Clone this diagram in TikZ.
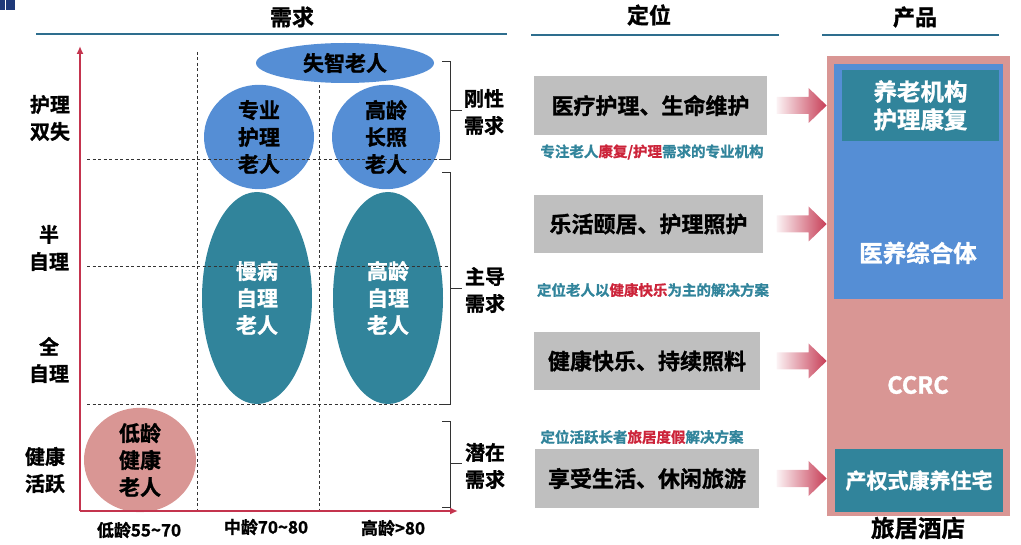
\documentclass[tikz,border=0pt]{standalone}
\usepackage{fontspec}
\setmainfont{Noto Sans CJK SC}[BoldFont={Noto Sans CJK SC Bold}, BoldFeatures={FakeBold=1.2}]
\usetikzlibrary{shapes.geometric,arrows.meta}

\definecolor{hdline}{RGB}{46,110,142}
\definecolor{ovblue}{RGB}{85,142,213}
\definecolor{ovteal}{RGB}{49,132,155}
\definecolor{ovpink}{RGB}{217,150,148}
\definecolor{boxgray}{RGB}{191,191,191}
\definecolor{axred}{RGB}{196,52,78}
\definecolor{capred}{RGB}{204,36,58}
\definecolor{logoblue}{RGB}{31,58,122}

\tikzset{every picture/.style={line width=0.75pt},
  hdtext/.style={font=\fontsize{22}{26}\selectfont\bfseries, inner sep=0pt},
  hdrule/.style={draw=hdline, line width=2.5pt},
  lvltext/.style={font=\fontsize{20}{27}\selectfont\bfseries, align=center, inner sep=0pt},
  agetext/.style={font=\fontsize{17}{20}\selectfont\bfseries, inner sep=0pt},
  gridline/.style={draw=black!80, line width=0.6pt, dash pattern=on 3pt off 2.5pt},
  brace/.style={draw=black!80, line width=0.8pt},
  oval/.style={ellipse, inner sep=0pt, align=center, font=\fontsize{21}{27}\selectfont\bfseries},
  posbox/.style={fill=boxgray, inner sep=0pt, font=\fontsize{22}{26}\selectfont\bfseries},
  postip/.style={inner sep=0pt, font=\fontsize{14.5}{18}\selectfont\bfseries, text=ovteal},
  arrowblk/.style={left color=axred!6, right color=axred!95},
  prodtext/.style={text=white, align=center, inner sep=0pt, font=\fontsize{23.5}{28}\selectfont\bfseries}
}

\begin{document}
\begin{tikzpicture}[x=1pt,y=-1pt]
\useasboundingbox (0,0) rectangle (1021,545);

% logo corner
\fill[logoblue] (0,0) rectangle (5,10);
\fill[logoblue] (6,0) rectangle (15,10);

% Headers
\node[hdtext] (hdneed) at (292,17) {需求};
\node[hdtext] (hdpos) at (649,15) {定位};
\node[hdtext] (hdprod) at (915,17) {产品};
\draw[hdrule] (36,34) -- (507,34);
\draw[hdrule] (531,35) -- (779,35);
\draw[hdrule] (822,35) -- (999,35);

% Vertical grid lines
\draw[gridline] (197,52) -- (197,511);
\draw[gridline] (319,52) -- (319,511);

% Ellipses
\node[oval, fill=ovblue, minimum width=178, minimum height=40] (dementia) at (345,63) {失智老人};
\node[oval, fill=ovblue, minimum width=110, minimum height=100] (pronurse) at (259,137) {专业\\护理\\老人};
\node[oval, fill=ovblue, minimum width=108, minimum height=104] (oldcare) at (386,137) {高龄\\长照\\老人};
\node[oval, fill=ovteal, text=white, minimum width=110, minimum height=212] (chronic) at (257,298) {慢病\\自理\\老人};
\node[oval, fill=ovteal, text=white, minimum width=110, minimum height=212] (oldself) at (388,298) {高龄\\自理\\老人};
\node[oval, fill=ovpink, minimum width=112, minimum height=100] (younghealth) at (140,460) {低龄\\健康\\老人};

% Horizontal grid lines
\draw[gridline] (87,159) -- (450,159);
\draw[gridline] (87,266) -- (450,266);
\draw[gridline] (87,404) -- (450,404);

% Axes
\coordinate (origin) at (80,511);
\coordinate (ytop) at (80,46);
\coordinate (xend) at (458,511);
\draw[axred, line width=2pt, -{Latex[length=8pt,width=7pt]}] (origin) -- (ytop);
\draw[axred, line width=2pt, -{Latex[length=8pt,width=7pt]}] (origin) -- (xend);

% Axis labels
\node[lvltext] (lvdual) at (50,118) {护理\\双失};
\node[lvltext] (lvhalf) at (49,248) {半\\自理};
\node[lvltext] (lvfull) at (49,360) {全\\自理};
\node[lvltext] (lvactive) at (45,470) {健康\\活跃};
\node[agetext] (agelow) at (139,530) {低龄55\char`\~70};
\node[agetext] (agemid) at (266,527) {中龄70\char`\~80};
\node[agetext] (agehigh) at (393,528) {高龄>80};

% Brackets
\draw[brace] (442,61) -- (450,61) -- (450,159) -- (442,159);
\draw[brace] (450,110) -- (462,110);
\draw[brace] (442,172) -- (450,172) -- (450,404) -- (442,404);
\draw[brace] (450,288) -- (462,288);
\draw[brace] (442,421) -- (450,421) -- (450,507) -- (442,507);
\draw[brace] (450,463) -- (462,463);
\node[lvltext] (rigid) at (484,112) {刚性\\需求};
\node[lvltext] (main) at (485,290) {主导\\需求};
\node[lvltext] (latent) at (485,466) {潜在\\需求};

% Positioning boxes
\node[posbox, minimum width=233, minimum height=59] (pos1) at (650.5,105.5) {医疗护理、生命维护};
\node[posbox, minimum width=229, minimum height=58] (pos2) at (648.5,224) {乐活颐居、护理照护};
\node[posbox, minimum width=226, minimum height=58] (pos3) at (647,361) {健康快乐、持续照料};
\node[posbox, minimum width=224, minimum height=59] (pos4) at (647,478.5) {享受生活、休闲旅游};
\node[postip] (tip1) at (652,152) {专注老人\textcolor{capred}{康复/护理}需求的专业机构};
\node[postip] (tip2) at (653,290) {定位老人以\textcolor{capred}{健康快乐}为主的解决方案};
\node[postip] (tip3) at (642,437) {定位活跃长者\textcolor{capred}{旅居度假}解决方案};

% Products
\node[fill=ovpink, minimum width=183, minimum height=460, inner sep=0pt] (prodout) at (918.5,286) {};
\fill[ovblue] (834,64) rectangle (1003,299);
\node[fill=ovteal, minimum width=157, minimum height=71, prodtext] (nursing) at (920.5,105.5) {养老机构\\护理康复};
\node[prodtext] (medcare) at (918,253) {医养综合体};
\node[prodtext] (ccrc) at (918,385) {CCRC};
\node[fill=ovteal, minimum width=168, minimum height=63, prodtext, font=\fontsize{21}{26}\selectfont\bfseries] (property) at (919,480.5) {产权式康养住宅};
\node[prodtext, text=black] (hotel) at (918,528) {旅居酒店};

% Arrows
\foreach \p in {pos1,pos2,pos3,pos4}
  \shade[arrowblk, shift={(prodout.west |- \p)}] (-50,-8.5) -- (-18,-8.5) -- (-18,-17.5) -- (0,0)
    -- (-18,17.5) -- (-18,8.5) -- (-50,8.5) -- cycle;

\end{tikzpicture}
\end{document}
